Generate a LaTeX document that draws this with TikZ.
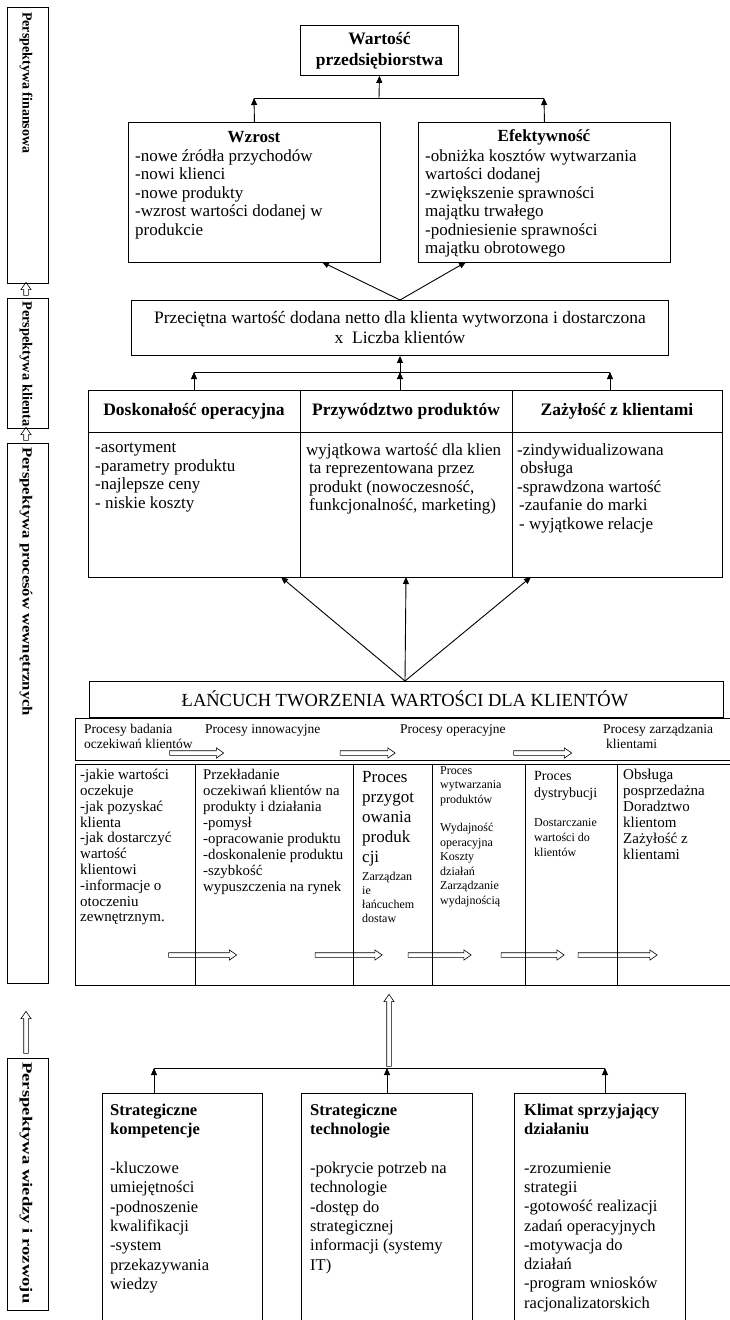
\documentclass[tikz,border=0pt]{standalone}
\usepackage{fontspec}
\setmainfont{Liberation Serif}
\usetikzlibrary{arrows.meta,shapes.arrows}
\newcommand\fsz[2]{\fontsize{#1}{#2}\selectfont}
\tikzset{
  box/.style={draw, line width=0.9pt, inner sep=0pt, anchor=north west},
  ln/.style={line width=0.9pt},
  arr/.style={line width=0.9pt, -{Triangle[length=7pt,width=6pt]}},
  tx/.style={inner sep=0pt, anchor=north west, align=left},
  tc/.style={inner sep=0pt, align=center},
  hol/.style={single arrow, draw, line width=0.6pt, inner xsep=0pt, inner ysep=2pt,
     single arrow head extend=2.8pt, single arrow tip angle=70, single arrow head indent=0pt},
  side/.style={anchor=west, inner sep=0pt, font=\fsz{14}{16}\bfseries},
}
\begin{document}
\begin{tikzpicture}[x=1pt,y=-1pt]
\useasboundingbox[fill=white] (0,0) rectangle (729,1320);
% ---------------- left column
\node[box, minimum width=41pt, minimum height=276pt] (pf) at (7,7) {};
\node[box, minimum width=41pt, minimum height=130pt] (pk) at (7,298) {};
\node[box, minimum width=41pt, minimum height=540pt] (pp) at (7,443) {};
\node[box, minimum width=41pt, minimum height=252pt] (pw) at (7,1058) {};
\node[side, rotate=-90] (tpf) at (26,12) {Perspektywa finansowa};
\node[side, rotate=-90, xscale=1.03] (tpk) at (26,301) {Perspektywa klienta};
\node[side, rotate=-90, xscale=1.19] (tpp) at (26,447) {Perspektywa procesów wewnętrznych};
\node[side, rotate=-90, xscale=1.33] (tpw) at (26,1062) {Perspektywa wiedzy i rozwoju};
\node[hol, rotate=90, minimum height=13pt] (h1) at (26,290.5) {};
\node[hol, rotate=90, minimum height=13pt] (h2) at (26,435.5) {};
\node[hol, rotate=90, minimum height=42pt] (h3) at (26,1034) {};
% ---------------- financial perspective
\node[box, minimum width=158pt, minimum height=50pt] (wart) at (300,25) {};
\node[tc, font=\fsz{17.5}{21}\bfseries] (twart) at (wart.center) {Wartość\\przedsiębiorstwa};
\node[box, minimum width=252pt, minimum height=140pt] (wz) at (128,122) {};
\node[box, minimum width=252pt, minimum height=140pt] (ef) at (418,122) {};
\node[tc, font=\fsz{17}{19}\bfseries] (twz) at (254,137) {Wzrost};
\node[tc, font=\fsz{17}{19}\bfseries] (tef) at (544,137) {Efektywność};
\node[tx, font=\fsz{17}{18.5}] (lwz) at (135,149) {-nowe źródła przychodów\\-nowi klienci\\-nowe produkty\\-wzrost wartości dodanej w\\produkcie};
\node[tx, font=\fsz{17}{18.5}] (lef) at (425,149) {-obniżka kosztów wytwarzania\\wartości dodanej\\-zwiększenie sprawności\\majątku trwałego\\-podniesienie sprawności\\majątku obrotowego};
\coordinate (b1l) at (254,98);
\coordinate (b1m) at (379,98);
\coordinate (b1r) at (544,98);
\draw[ln] (b1l) -- (b1r);
\draw[arr] (wz.north) -- (b1l);
\draw[arr] (ef.north) -- (b1r);
\draw[arr] (b1m) -- (wart.south);
% ---------------- Przecietna
\node[box, minimum width=537pt, minimum height=55pt] (prz) at (131,300) {};
\node[tc, font=\fsz{17.5}{20}] (tprz) at (prz.center) {Przeciętna wartość dodana netto dla klienta wytworzona i dostarczona\\x\ \ Liczba klientów};
\coordinate (pa) at (400,300);
\coordinate (ewz) at (322,262);
\coordinate (eef) at (466,262);
\draw[arr] (pa) -- (ewz);
\draw[arr] (pa) -- (eef);
% ---------------- customer table
\node[box, minimum width=212pt, minimum height=187pt] (k1) at (88,390) {};
\node[box, minimum width=212pt, minimum height=187pt] (k2) at (300,390) {};
\node[box, minimum width=210pt, minimum height=187pt] (k3) at (512,390) {};
\draw[ln] (k1.north west) ++(0,42) -- ++(634,0);
\node[tc, font=\fsz{17.5}{19}\bfseries] (h1t) at (194,411) {Doskonałość operacyjna};
\node[tc, font=\fsz{17.5}{19}\bfseries] (h2t) at (406,411) {Przywództwo produktów};
\node[tc, font=\fsz{17.5}{19}\bfseries] (h3t) at (617,411) {Zażyłość z klientami};
\node[tx, font=\fsz{17}{18.5}] (c1t) at (95,443) {-asortyment\\-parametry produktu\\-najlepsze ceny\\- niskie koszty};
\node[tx, font=\fsz{17}{18.5}] (c2t) at (306,443) {wyjątkowa wartość dla klien\\\hspace{3pt}ta reprezentowana przez\\\hspace{3pt}produkt (nowoczesność,\\\hspace{3pt}funkcjonalność, marketing)};
\node[tx, font=\fsz{17}{18.5}] (c3t) at (517,443) {-zindywidualizowana\\\hspace{3pt}obsługa\\-sprawdzona wartość\\\hspace{2pt}-zaufanie do marki\\\hspace{2pt}- wyjątkowe relacje};
\coordinate (b2l) at (194,372);
\coordinate (b2m) at (400,372);
\coordinate (b2r) at (610,372);
\draw[ln] (b2l) -- (b2r);
\draw[arr] (b2l |- k1.north) -- (b2l);
\draw[arr] (b2m |- k2.north) -- (b2m);
\draw[arr] (b2r |- k3.north) -- (b2r);
\draw[arr] (b2m) -- (prz.south -| b2m);
% ---------------- value chain
\node[box, minimum width=634pt, minimum height=36pt] (lan) at (89,681) {};
\node[tc, font=\fsz{18.5}{20}] (tlan) at (405,699) {ŁAŃCUCH TWORZENIA WARTOŚCI DLA KLIENTÓW};
\coordinate (la) at (405,681);
\draw[arr] (la) -- (281,577);
\draw[arr] (la) -- (406,577);
\draw[arr] (la) -- (531,577);
\node[box, minimum width=660pt, minimum height=42pt] (row) at (75,718) {};
\node[tx, font=\fsz{13.5}{14.5}] (r1) at (84,724) {Procesy badania\\oczekiwań klientów};
\node[tx, font=\fsz{13.5}{14.5}] (r2) at (205,724) {Procesy innowacyjne};
\node[tx, font=\fsz{13.5}{14.5}] (r3) at (400,724) {Procesy operacyjne};
\node[tx, font=\fsz{13.5}{14.5}] (r4) at (603,724) {Procesy zarządzania\\\hspace{3pt}klientami};
\node[hol, minimum height=54pt] (ra1) at (195,753) {};
\node[hol, minimum height=55pt] (ra2) at (366,753) {};
\node[hol, minimum height=58pt] (ra3) at (541,753) {};
% ---------------- process table
\node[box, minimum width=120pt, minimum height=221pt] (q1) at (75,764) {};
\node[box, minimum width=158pt, minimum height=221pt] (q2) at (195,764) {};
\node[box, minimum width=79pt, minimum height=221pt] (q3) at (353,764) {};
\node[box, minimum width=93pt, minimum height=221pt] (q4) at (432,764) {};
\node[box, minimum width=92pt, minimum height=221pt] (q5) at (525,764) {};
\node[box, minimum width=120pt, minimum height=221pt] (q6) at (617,764) {};
\node[tx, font=\fsz{15}{15.8}] (q1t) at (80,769) {-jakie wartości\\oczekuje\\-jak pozyskać\\klienta\\-jak dostarczyć\\wartość\\klientowi\\-informacje o\\otoczeniu\\zewnętrznym.};
\node[tx, font=\fsz{14.8}{16}] (q2t) at (203,769) {Przekładanie\\oczekiwań klientów na\\produkty i działania\\-pomysł\\-opracowanie produktu\\-doskonalenie produktu\\-szybkość\\wypuszczenia na rynek};
\node[tx, font=\fsz{17}{20}] (q3t) at (362,771) {Proces\\przygot\\owania\\produk\\cji};
\node[tx, font=\fsz{12}{14}] (q3b) at (362,872) {Zarządzan\\ie\\łańcuchem\\dostaw};
\node[tx, font=\fsz{12}{14.5}] (q4t) at (440,766) {Proces\\wytwarzania\\produktów\\[14pt]Wydajność\\operacyjna\\Koszty\\działań\\Zarządzanie\\wydajnością};
\node[tx, font=\fsz{14}{17}] (q5t) at (534,771) {Proces\\dystrybucji};
\node[tx, font=\fsz{12}{15}] (q5b) at (534,818) {Dostarczanie\\wartości do\\klientów};
\node[tx, font=\fsz{15}{16}] (q6t) at (623,769) {Obsługa\\posprzedażna\\Doradztwo\\klientom\\Zażyłość z\\klientami};
\node[hol, minimum height=68pt] (qa1) at (201,955) {};
\node[hol, minimum height=67pt] (qa2) at (347,955) {};
\node[hol, minimum height=63pt] (qa3) at (438,955) {};
\node[hol, minimum height=63pt] (qa4) at (531,955) {};
\node[hol, minimum height=79pt] (qa5) at (616,955) {};
% ---------------- learning and growth
\coordinate (b3l) at (154,1068);
\coordinate (b3m) at (387,1068);
\coordinate (b3r) at (605,1068);
\node[box, minimum width=160pt, minimum height=240pt] (s1) at (102,1093) {};
\node[box, minimum width=171pt, minimum height=240pt] (s2) at (301,1093) {};
\node[box, minimum width=171pt, minimum height=240pt] (s3) at (514,1093) {};
\draw[ln] (b3l) -- (b3r);
\draw[arr] (b3l |- s1.north) -- (b3l);
\draw[arr] (s2.north -| b3m) -- (b3m);
\draw[arr] (b3r |- s3.north) -- (b3r);
\node[hol, rotate=90, minimum height=72pt] (hc) at (389,1032) {};
\node[tx, font=\fsz{16.5}{19.3}\bfseries] (s1h) at (110,1104) {Strategiczne\\kompetencje};
\node[tx, font=\fsz{16.5}{19.3}\bfseries] (s2h) at (310,1104) {Strategiczne\\technologie};
\node[tx, font=\fsz{16.5}{19.3}\bfseries] (s3h) at (524,1104) {Klimat sprzyjający\\działaniu};
\node[tx, font=\fsz{16.5}{19.3}] (s1t) at (110,1162) {-kluczowe\\umiejętności\\-podnoszenie\\kwalifikacji\\-system\\przekazywania\\wiedzy};
\node[tx, font=\fsz{16.5}{19.3}] (s2t) at (310,1162) {-pokrycie potrzeb na\\technologie\\-dostęp do\\strategicznej\\informacji (systemy\\IT)};
\node[tx, font=\fsz{16.5}{19.3}] (s3t) at (524,1162) {-zrozumienie\\strategii\\-gotowość realizacji\\zadań operacyjnych\\-motywacja do\\działań\\-program wniosków\\racjonalizatorskich};
\end{tikzpicture}
\end{document}
